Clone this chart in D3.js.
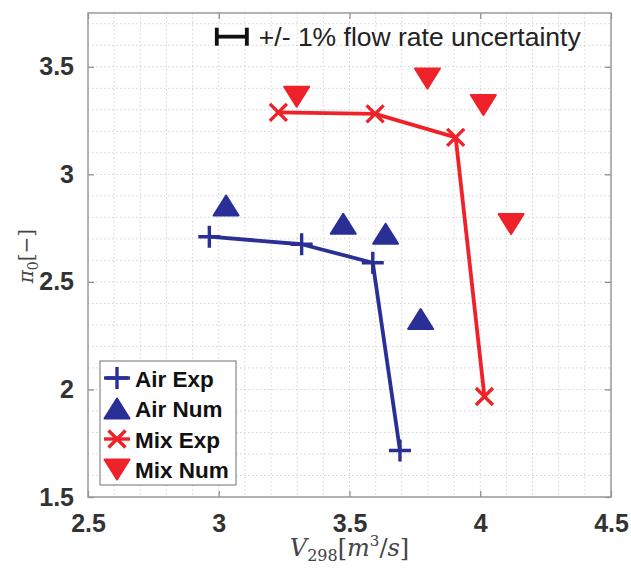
<!DOCTYPE html>
<html>
<head>
<meta charset="utf-8">
<script src="https://cdn.jsdelivr.net/npm/d3@7"></script>
<style>
  body { margin: 0; background: #fff; }
  svg { display: block; }
</style>
</head>
<body>
<svg id="chart" width="631" height="570"></svg>
<script>
// data
const airExpX = [2.964, 3.317, 3.589, 3.693];
const airExpY = [2.710, 2.675, 2.589, 1.716];
const airNumX = [3.028, 3.476, 3.638, 3.772];
const airNumY = [2.855, 2.770, 2.724, 2.327];
const mixExpX = [3.228, 3.598, 3.906, 4.016];
const mixExpY = [3.288, 3.281, 3.172, 1.967];
const mixNumX = [3.298, 3.798, 4.012, 4.118];
const mixNumY = [3.361, 3.446, 3.322, 2.769];
const xTicks = [2.5, 3, 3.5, 4, 4.5];
const yTicks = [1.5, 2, 2.5, 3, 3.5];
const legendLabels = ["Air Exp", "Air Num", "Mix Exp", "Mix Num"];
const errBar = { x: 3.05, half: 0.0575, y: 3.64 };

const blue = "#2a2f96", red = "#ee2228";

const margin = { top: 13, right: 20, bottom: 73, left: 88 },
      width = 631 - margin.left - margin.right,
      height = 570 - margin.top - margin.bottom;

const svg = d3.select("#chart");
const g = svg.append("g")
    .attr("transform", `translate(${margin.left},${margin.top})`);

const x = d3.scaleLinear().domain([2.5, 4.5]).range([0, width]);
const y = d3.scaleLinear().domain([1.5, 3.75]).range([height, 0]);

// dotted grid every 0.1
const gx = d3.range(26, 45).map(d => d / 10);
const gy = d3.range(16, 38).map(d => d / 10);
g.append("g").selectAll("line").data(gx).join("line")
    .attr("x1", d => x(d)).attr("x2", d => x(d))
    .attr("y1", 0).attr("y2", height)
    .attr("stroke", "#d2d2d2").attr("stroke-dasharray", "1.5,2.5");
g.append("g").selectAll("line").data(gy).join("line")
    .attr("y1", d => y(d)).attr("y2", d => y(d))
    .attr("x1", 0).attr("x2", width)
    .attr("stroke", "#d2d2d2").attr("stroke-dasharray", "1.5,2.5");

// axes with inward ticks on all sides
function styleAxis(sel) {
  sel.select(".domain").remove();
  sel.selectAll(".tick line").attr("stroke", "#888").attr("stroke-width", 1.2);
  sel.selectAll(".tick text")
    .attr("font-family", "Liberation Sans, Arial, sans-serif")
    .attr("font-weight", "bold").attr("font-size", 25).attr("fill", "#333");
}
g.append("g").attr("transform", `translate(0,${height})`)
  .call(d3.axisBottom(x).tickValues(xTicks).tickSize(-6).tickPadding(17).tickFormat(d3.format("")))
  .call(styleAxis);
g.append("g")
  .call(d3.axisTop(x).tickValues(xTicks).tickSize(-6).tickFormat(""))
  .call(styleAxis);
g.append("g")
  .call(d3.axisLeft(y).tickValues(yTicks).tickSize(-6).tickPadding(14).tickFormat(d3.format("")))
  .call(styleAxis);
g.append("g").attr("transform", `translate(${width},0)`)
  .call(d3.axisRight(y).tickValues(yTicks).tickSize(-6).tickFormat(""))
  .call(styleAxis);

g.append("rect").attr("width", width).attr("height", height)
  .attr("fill", "none").attr("stroke", "#999").attr("stroke-width", 1.5);

// marker shapes
const triUp = "M0,-10L12.5,10L-12.5,10Z";
const triDown = "M0,10L12.5,-10L-12.5,-10Z";
const plus = "M-11,0H11M0,-11V11";
const cross = "M-8.5,-8.5L8.5,8.5M-8.5,8.5L8.5,-8.5";

const line = d3.line().x(d => x(d[0])).y(d => y(d[1]));

function series(xs, ys, color, shape, withLine, filled) {
  const pts = xs.map((v, i) => [v, ys[i]]);
  if (withLine) {
    g.append("path").datum(pts).attr("d", line)
      .attr("fill", "none").attr("stroke", color).attr("stroke-width", 3.8)
      .attr("stroke-linejoin", "round");
  }
  g.append("g").selectAll("path").data(pts).join("path")
    .attr("transform", d => `translate(${x(d[0])},${y(d[1])})`)
    .attr("d", shape)
    .attr("fill", filled ? color : "none")
    .attr("stroke", color)
    .attr("stroke-width", filled ? 2 : 3.4)
    .attr("stroke-linejoin", "round");
}
series(airExpX, airExpY, blue, plus, true, false);
series(airNumX, airNumY, blue, triUp, false, true);
series(mixExpX, mixExpY, red, cross, true, false);
series(mixNumX, mixNumY, red, triDown, false, true);

// uncertainty annotation
const eb = g.append("g").attr("stroke", "#111").attr("stroke-width", 3.8);
eb.append("line").attr("x1", x(errBar.x - errBar.half)).attr("x2", x(errBar.x + errBar.half))
  .attr("y1", y(errBar.y)).attr("y2", y(errBar.y));
eb.selectAll(".cap").data([errBar.x - errBar.half, errBar.x + errBar.half]).join("line")
  .attr("x1", d => x(d)).attr("x2", d => x(d))
  .attr("y1", y(errBar.y) - 9).attr("y2", y(errBar.y) + 9);
g.append("text")
  .attr("x", x(errBar.x + errBar.half) + 12).attr("y", y(errBar.y) + 9)
  .attr("font-family", "Liberation Sans, Arial, sans-serif").attr("font-size", 26.5)
  .attr("fill", "#222").text("+/- 1% flow rate uncertainty");

// legend
const leg = g.append("g").attr("transform", "translate(12,348)");
leg.append("rect").attr("width", 136).attr("height", 124)
  .attr("fill", "#fff").attr("stroke", "#888").attr("stroke-width", 1.2);
const legItems = [
  { color: blue, shape: plus, line: true, filled: false },
  { color: blue, shape: triUp, line: false, filled: true },
  { color: red, shape: cross, line: true, filled: false },
  { color: red, shape: triDown, line: false, filled: true }
];
const li = leg.selectAll(".item").data(legendLabels).join("g")
  .attr("transform", (d, i) => `translate(0,${17 + i * 30.5})`);
li.filter((d, i) => legItems[i].line).append("line")
  .attr("x1", 4).attr("x2", 30).attr("stroke", d => legItems[legendLabels.indexOf(d)].color)
  .attr("stroke-width", 3.4);
li.append("path")
  .attr("transform", "translate(17,0)")
  .attr("d", d => legItems[legendLabels.indexOf(d)].shape)
  .attr("fill", d => legItems[legendLabels.indexOf(d)].filled ? legItems[legendLabels.indexOf(d)].color : "none")
  .attr("stroke", d => legItems[legendLabels.indexOf(d)].color)
  .attr("stroke-width", d => legItems[legendLabels.indexOf(d)].filled ? 2 : 3.4)
  .attr("stroke-linejoin", "round");
li.append("text").attr("x", 35).attr("y", 8.5)
  .attr("font-family", "Liberation Sans, Arial, sans-serif").attr("font-weight", "bold")
  .attr("font-size", 22.5).attr("fill", "#111").text(d => d);

// axis labels (LaTeX-like serif)
const xl = svg.append("text")
  .attr("x", margin.left + x(3.5)).attr("y", 556)
  .attr("text-anchor", "middle")
  .attr("font-family", "DejaVu Serif, Liberation Serif, serif").attr("font-size", 24).attr("fill", "#444");
xl.append("tspan").attr("font-style", "italic").text("V");
xl.append("tspan").attr("font-size", 16).attr("dy", 5).text("298");
xl.append("tspan").attr("dy", -5).text("[");
xl.append("tspan").attr("font-style", "italic").text("m");
xl.append("tspan").attr("font-size", 15).attr("dy", -10).text("3");
xl.append("tspan").attr("dy", 10).text("/");
xl.append("tspan").attr("font-style", "italic").text("s");
xl.append("tspan").text("]");

const yl = svg.append("text")
  .attr("transform", `translate(33,${margin.top + y(2.62)}) rotate(-90)`)
  .attr("text-anchor", "middle")
  .attr("font-family", "DejaVu Serif, Liberation Serif, serif").attr("font-size", 20).attr("fill", "#444");
yl.append("tspan").attr("font-style", "italic").text("π");
yl.append("tspan").attr("font-size", 14).attr("dy", 5).text("0");
yl.append("tspan").attr("dy", -5).text("[−]");
</script>
</body>
</html>
